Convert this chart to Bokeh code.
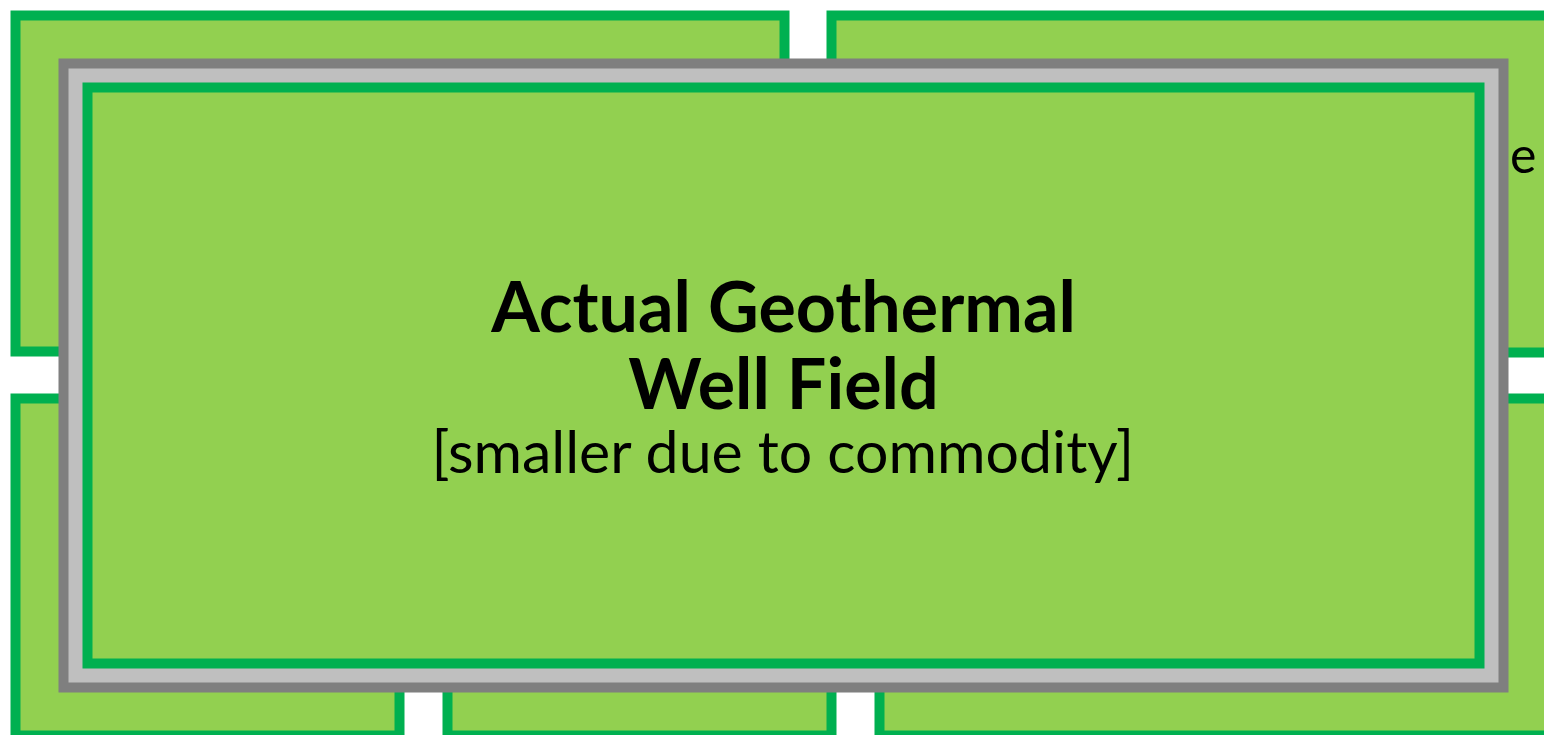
from bokeh.plotting import figure
from bokeh.models import Range1d
from bokeh.core.properties import value
from bokeh.embed import file_html
from bokeh.resources import INLINE

# Background tiles (pixel coordinates: left, right, top, bottom)
tile_left = [10, 826, 10, 442, 874]
tile_right = [789, 1560, 404, 836, 1560]
tile_top = [10, 10, 393, 393, 393]
tile_bottom = [356, 357, 740, 740, 740]

# Foreground frame (outer extent)
frame_left = [58]
frame_right = [1508]
frame_top = [58]
frame_bottom = [692]

# Texts (baseline positions)
title_lines = ["Actual Geothermal", "Well Field"]
title_x = [783, 783]
title_y = [330, 407]
sub_lines = ["[smaller due to commodity]"]
sub_x = [783]
sub_y = [472]
hidden_tail = ["e"]
hidden_x = [1536]
hidden_y = [173]

GREEN = "#00B050"
LIGHT = "#92D050"
DARK_GRAY = "#7F7F7F"
LIGHT_GRAY = "#BFBFBF"
STROKE = 10
TITLE_SIZE = 70
SUB_SIZE = 59
TAIL_SIZE = 50
BASE_SHIFT = 0.37  # baseline correction as a fraction of font size

W, H = 1544, 735
p = figure(width=W, height=H, output_backend="svg", toolbar_location=None,
           x_range=Range1d(0, W), y_range=Range1d(H, 0),
           min_border=0, outline_line_color=None)
p.axis.visible = False
p.grid.visible = False
p.background_fill_color = "white"
p.border_fill_color = "white"

def inset(vals, d, sign):
    return [v + sign * d for v in vals]

def base(vals, size):
    return [v - BASE_SHIFT * size for v in vals]

# tiles: green border then light fill
p.quad(left=tile_left, right=tile_right, top=tile_top, bottom=tile_bottom,
       fill_color=GREEN, line_color=None)
p.quad(left=inset(tile_left, STROKE, 1), right=inset(tile_right, STROKE, -1),
       top=inset(tile_top, STROKE, 1), bottom=inset(tile_bottom, STROKE, -1),
       fill_color=LIGHT, line_color=None)

# visible tail of a background tile's text
p.text(x=hidden_x, y=base(hidden_y, TAIL_SIZE), text=hidden_tail, text_align="right",
       text_baseline="alphabetic", text_font=value("Lato"),
       text_font_size=f"{TAIL_SIZE}px", text_color="black")

# frame layers
p.quad(left=frame_left, right=frame_right, top=frame_top, bottom=frame_bottom,
       fill_color=DARK_GRAY, line_color=None)
p.quad(left=inset(frame_left, 10, 1), right=inset(frame_right, 10, -1),
       top=inset(frame_top, 10, 1), bottom=inset(frame_bottom, 10, -1),
       fill_color=LIGHT_GRAY, line_color=None)
p.quad(left=inset(frame_left, 24, 1), right=inset(frame_right, 24, -1),
       top=inset(frame_top, 24, 1), bottom=inset(frame_bottom, 24, -1),
       fill_color=GREEN, line_color=None)
p.quad(left=inset(frame_left, 34, 1), right=inset(frame_right, 34, -1),
       top=inset(frame_top, 34, 1), bottom=inset(frame_bottom, 34, -1),
       fill_color=LIGHT, line_color=None)

p.text(x=title_x, y=base(title_y, TITLE_SIZE), text=title_lines, text_align="center",
       text_baseline="alphabetic", text_font=value("Lato"),
       text_font_style="bold", text_font_size=f"{TITLE_SIZE}px", text_color="black")
p.text(x=sub_x, y=base(sub_y, SUB_SIZE), text=sub_lines, text_align="center",
       text_baseline="alphabetic", text_font=value("Lato"),
       text_font_size=f"{SUB_SIZE}px", text_color="black")

open("out.html", "w").write(file_html(p, INLINE))
